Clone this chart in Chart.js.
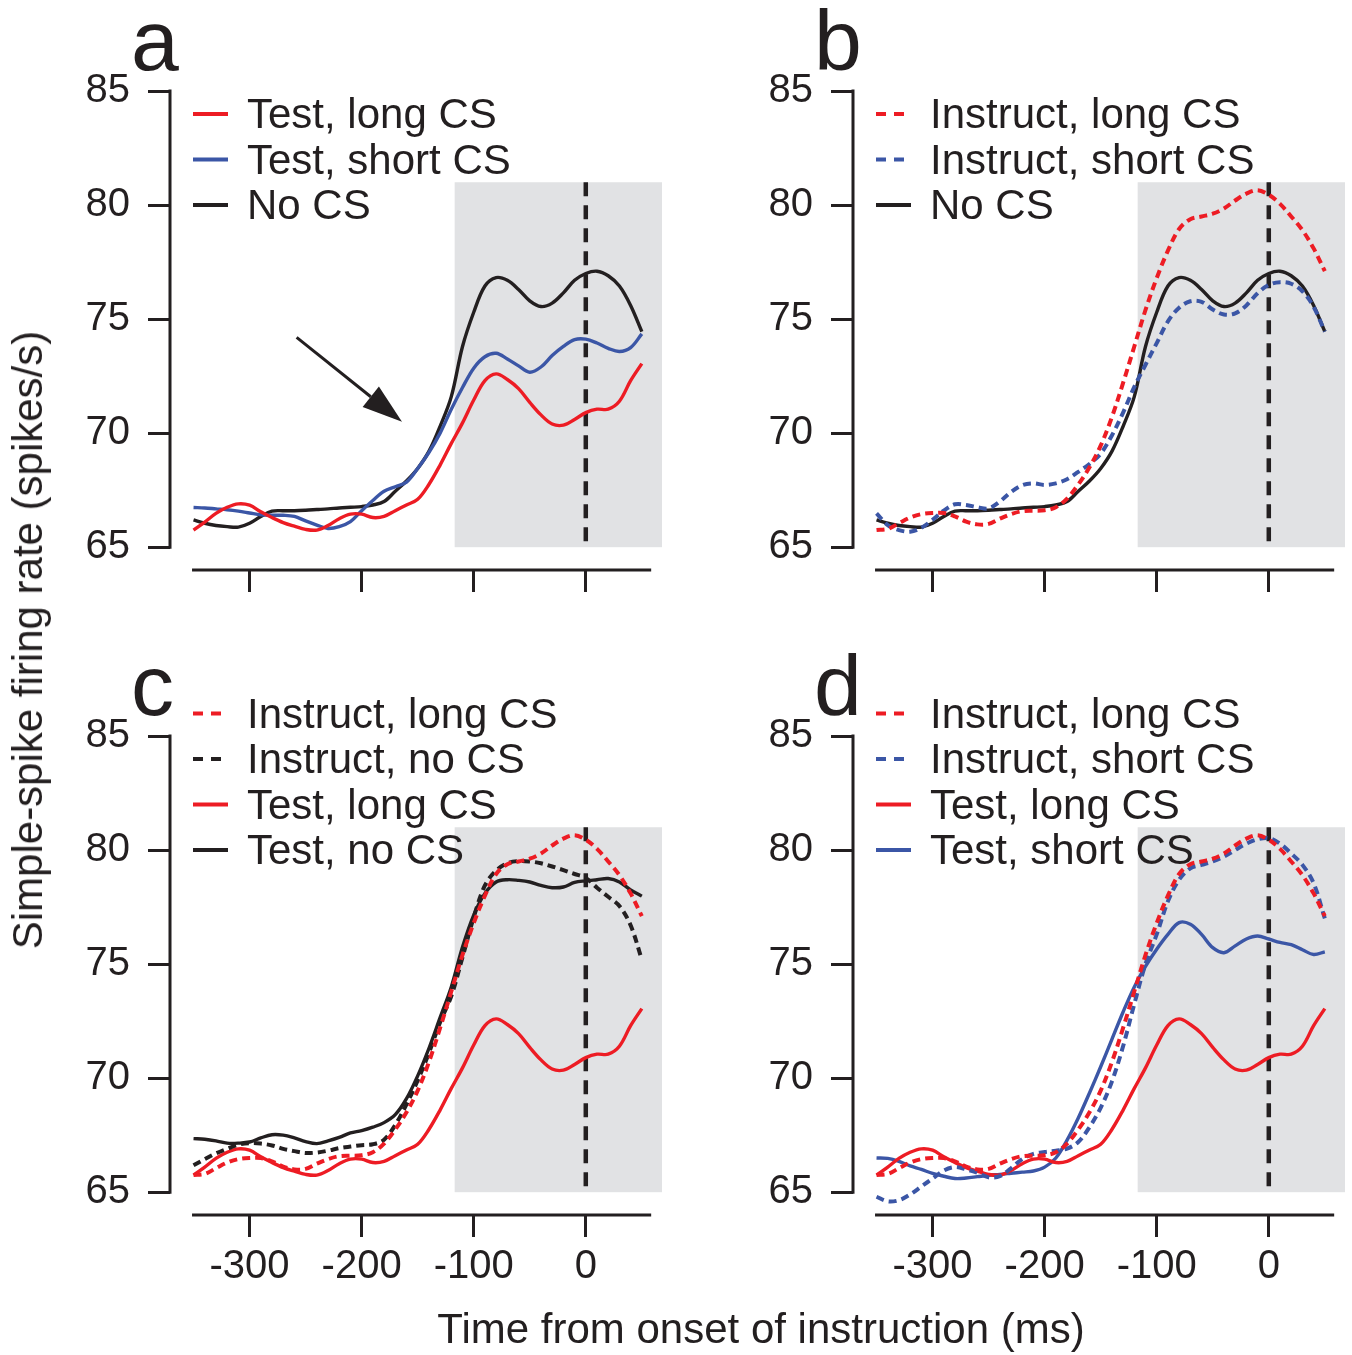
<!DOCTYPE html>
<html>
<head>
<meta charset="utf-8">
<title>Simple-spike firing rate</title>
<script src="https://cdn.jsdelivr.net/npm/chart.js@4.4.1/dist/chart.umd.min.js"></script>
<style>
  body { margin: 0; width: 1352px; height: 1355px; position: relative; overflow: hidden; background: #fff;
         font-family: "Liberation Sans", Arial, Helvetica, sans-serif; color: #231f20; }
  canvas { position: absolute; }
  #ytitle { position: absolute; left: 28px; top: 640px; font-size: 42px; line-height: 42px; white-space: nowrap;
            transform: translate(-50%, -50%) rotate(-90deg); }
  #xtitle { position: absolute; left: 761px; top: 1308px; font-size: 42px; line-height: 42px; white-space: nowrap;
            transform: translateX(-50%); }
</style>
</head>
<body>
<canvas id="panelA" width="670" height="645" style="left:0;top:0"></canvas>
<canvas id="panelB" width="669" height="645" style="left:683px;top:0"></canvas>
<canvas id="panelC" width="670" height="710" style="left:0;top:645px"></canvas>
<canvas id="panelD" width="669" height="710" style="left:683px;top:645px"></canvas>
<div id="ytitle">Simple-spike firing rate (spikes/s)</div>
<div id="xtitle">Time from onset of instruction (ms)</div>

<script>
// time axis (ms from instruction onset)
const TIME_MS = [-350, -340, -330, -320, -310, -300, -290, -280, -270, -260,
                 -250, -240, -230, -220, -210, -200, -190, -180, -170, -160,
                 -150, -140, -130, -120, -110, -100, -90, -80, -70, -60,
                 -50, -40, -30, -20, -10, 0, 10, 20, 30, 40, 50];

// firing rates (spikes/s)
const NO_CS = [66.2, 66.05, 65.95, 65.9, 65.88, 66.05, 66.35, 66.58, 66.6, 66.6,
               66.62, 66.65, 66.68, 66.72, 66.75, 66.78, 66.85, 67.0, 67.45, 67.9,
               68.45, 69.2, 70.3, 71.6, 73.8, 75.3, 76.45, 76.82, 76.7, 76.3,
               75.8, 75.55, 75.7, 76.15, 76.7, 77.0, 77.1, 76.9, 76.45, 75.6, 74.45];
const TEST_SHORT_A = [66.74, 66.72, 66.68, 66.64, 66.58, 66.5, 66.42, 66.4, 66.4, 66.35,
                      66.15, 65.97, 65.82, 65.9, 66.12, 66.6, 67.05, 67.45, 67.65, 67.85,
                      68.45, 69.15, 70.0, 71.05, 72.0, 72.85, 73.35, 73.5, 73.25, 72.95,
                      72.67, 72.9, 73.4, 73.8, 74.1, 74.12, 73.95, 73.72, 73.58, 73.75, 74.35];
const TEST_LONG = [65.75, 66.1, 66.48, 66.75, 66.9, 66.84, 66.55, 66.3, 66.08, 65.92,
                   65.78, 65.75, 65.95, 66.25, 66.45, 66.45, 66.3, 66.35, 66.6, 66.85,
                   67.1, 67.75, 68.6, 69.55, 70.45, 71.45, 72.3, 72.6, 72.35, 71.95,
                   71.35, 70.8, 70.4, 70.35, 70.6, 70.9, 71.05, 71.05, 71.4, 72.3, 73.05];
const INSTRUCT_LONG = [65.75, 65.8, 66.05, 66.3, 66.45, 66.5, 66.5, 66.35, 66.12, 66.0,
                       66.02, 66.25, 66.45, 66.58, 66.6, 66.62, 66.75, 67.13, 67.75, 68.5,
                       69.45, 70.7, 72.2, 73.8, 75.4, 76.8, 78.0, 78.95, 79.38, 79.5,
                       79.62, 79.85, 80.2, 80.5, 80.65, 80.45, 80.05, 79.5, 78.9, 78.1, 77.1];
const INSTRUCT_SHORT_B = [66.48, 65.97, 65.75, 65.68, 65.85, 66.2, 66.6, 66.88, 66.85, 66.75,
                          66.7, 67.0, 67.42, 67.72, 67.8, 67.73, 67.8, 67.98, 68.3, 68.65,
                          69.1, 69.9, 70.9, 72.03, 73.0, 73.95, 74.9, 75.5, 75.78, 75.76,
                          75.42, 75.2, 75.25, 75.6, 76.13, 76.5, 76.62, 76.55, 76.22, 75.54, 74.45];
const TEST_NO_CS_C = [67.35, 67.32, 67.25, 67.15, 67.15, 67.2, 67.38, 67.52, 67.5, 67.38,
                      67.22, 67.13, 67.25, 67.4, 67.6, 67.7, 67.85, 68.05, 68.4, 69.1,
                      70.1, 71.3, 72.65, 74.0, 75.75, 77.15, 78.1, 78.6, 78.7, 78.67,
                      78.6, 78.45, 78.35, 78.38, 78.58, 78.65, 78.7, 78.75, 78.6, 78.25, 77.98];
const INSTRUCT_NO_CS_C = [66.18, 66.45, 66.7, 66.9, 67.08, 67.15, 67.13, 67.05, 66.9, 66.8,
                          66.72, 66.74, 66.82, 66.93, 67.0, 67.06, 67.1, 67.3, 67.95, 68.85,
                          69.9, 71.1, 72.45, 73.6, 75.3, 77.05, 78.45, 79.1, 79.42, 79.52,
                          79.5, 79.42, 79.28, 79.12, 78.95, 78.78, 78.35, 77.95, 77.55, 76.7, 75.2];
const TEST_SHORT_D = [66.5, 66.48, 66.35, 66.15, 66.0, 65.82, 65.7, 65.6, 65.62, 65.68,
                      65.74, 65.78, 65.83, 65.88, 65.93, 66.1, 66.5, 67.28, 68.25, 69.35,
                      70.5, 71.7, 72.9, 74.0, 74.9, 75.65, 76.3, 76.82, 76.75, 76.3,
                      75.72, 75.5, 75.8, 76.1, 76.23, 76.1, 75.95, 75.85, 75.63, 75.42, 75.54];
const INSTRUCT_SHORT_D = [64.8, 64.6, 64.65, 64.9, 65.25, 65.6, 65.95, 66.1, 66.0, 65.85,
                          65.65, 65.7, 66.05, 66.45, 66.68, 66.76, 66.82, 66.91, 67.2, 67.85,
                          68.7, 69.85, 71.4, 73.25, 75.0, 76.3, 77.75, 78.7, 79.2, 79.35,
                          79.5, 79.71, 80.0, 80.28, 80.47, 80.52, 80.28, 79.85, 79.35, 78.55, 77.0];

// axis ticks
const X_TICKS = [-300, -200, -100, 0];
const Y_TICKS = [65, 70, 75, 80, 85];

// instruction window (shaded) and arrow annotation in data units
const SHADE_MS = [-117, 68];
const SHADE_RATE = [65, 81];
const ARROW_FROM = [-258, 74.2];
const ARROW_TO = [-164, 70.5];

const INK = '#231f20', RED = '#ed1c24', BLUE = '#3b56a6', SHADE = '#e1e2e4';
const FONT = '"Liberation Sans", Arial, Helvetica, sans-serif';

const decor = {
    id: 'decor',
    beforeDatasetsDraw(chart) {
        const { ctx, scales: { x, y } } = chart;
        const x0 = x.getPixelForValue(SHADE_MS[0]), x1 = x.getPixelForValue(SHADE_MS[1]);
        const yTop = y.getPixelForValue(SHADE_RATE[1]), yBot = y.getPixelForValue(SHADE_RATE[0]);
        ctx.save();
        ctx.fillStyle = SHADE;
        ctx.fillRect(x0, yTop, x1 - x0, yBot - yTop);
        // onset of instruction
        const xz = x.getPixelForValue(0);
        ctx.strokeStyle = INK;
        ctx.lineWidth = 4.5;
        ctx.setLineDash([14, 9]);
        ctx.beginPath();
        ctx.moveTo(xz, yTop);
        ctx.lineTo(xz, yBot);
        ctx.stroke();
        ctx.restore();
    },
    afterDraw(chart, args, opts) {
        const { ctx, chartArea, scales: { x, y } } = chart;
        ctx.save();
        // detached axis lines
        ctx.strokeStyle = INK;
        ctx.lineWidth = 3;
        ctx.lineCap = 'square';
        ctx.beginPath();
        ctx.moveTo(chartArea.left, y.getPixelForValue(85));
        ctx.lineTo(chartArea.left, y.getPixelForValue(65));
        ctx.moveTo(x.getPixelForValue(-350), chartArea.bottom);
        ctx.lineTo(x.getPixelForValue(57), chartArea.bottom);
        ctx.stroke();
        ctx.lineCap = 'butt';

        // legend
        const sets = chart.data.datasets;
        sets.forEach((ds, i) => {
            const rowY = 205 - (sets.length - 1 - i) * 45.5;
            ctx.strokeStyle = ds.borderColor;
            ctx.lineWidth = 4;
            ctx.setLineDash(ds.borderDash.length ? [10, 8] : []);
            ctx.beginPath();
            ctx.moveTo(193, rowY);
            ctx.lineTo(ds.borderDash.length ? 221 : 228, rowY);
            ctx.stroke();
            ctx.setLineDash([]);
            ctx.fillStyle = INK;
            ctx.font = '42px ' + FONT;
            ctx.textBaseline = 'alphabetic';
            ctx.fillText(ds.label, 247, rowY + 14);
        });

        // panel letter
        ctx.fillStyle = INK;
        ctx.font = '86px ' + FONT;
        ctx.fillText(opts.letter, 131, 70);

        // arrow
        if (opts.arrow) {
            const ax = x.getPixelForValue(ARROW_FROM[0]), ay = y.getPixelForValue(ARROW_FROM[1]);
            const bx = x.getPixelForValue(ARROW_TO[0]), by = y.getPixelForValue(ARROW_TO[1]);
            const len = Math.hypot(bx - ax, by - ay);
            const ux = (bx - ax) / len, uy = (by - ay) / len;
            const hx = bx - ux * 40, hy = by - uy * 40;
            ctx.strokeStyle = INK;
            ctx.lineWidth = 3;
            ctx.beginPath();
            ctx.moveTo(ax, ay);
            ctx.lineTo(hx, hy);
            ctx.stroke();
            ctx.fillStyle = INK;
            ctx.beginPath();
            ctx.moveTo(bx, by);
            ctx.lineTo(hx - uy * 13, hy + ux * 13);
            ctx.lineTo(hx + uy * 13, hy - ux * 13);
            ctx.closePath();
            ctx.fill();
        }
        ctx.restore();
    }
};

const makePanel = (id, letter, series, showXLabels, arrow) => {
    const canvas = document.getElementById(id);
    const W = canvas.width, H = canvas.height;
    return new Chart(canvas, {
        type: 'line',
        data: {
            datasets: series.map(s => ({
                label: s.label,
                data: TIME_MS.map((t, i) => ({ x: t, y: s.values[i] })),
                borderColor: s.color,
                borderWidth: s.dashed ? 4 : 3.4,
                borderDash: s.dashed ? [8, 5] : [],
                pointRadius: 0,
                tension: 0.35,
                fill: false
            }))
        },
        options: {
            responsive: false,
            animation: false,
            events: [],
            layout: { padding: { top: 91, right: W - 662, left: 0, bottom: 0 } },
            plugins: {
                legend: { display: false },
                tooltip: { enabled: false },
                decor: { letter: letter, arrow: arrow }
            },
            scales: {
                x: {
                    type: 'linear', min: -371, max: 68,
                    afterBuildTicks: s => { s.ticks = X_TICKS.map(v => ({ value: v })); },
                    afterFit: s => { s.height = H - 570; },
                    grid: { drawOnChartArea: false, drawTicks: true, tickLength: 22, lineWidth: 3, color: INK },
                    border: { display: false },
                    ticks: { display: showXLabels, color: INK, font: { family: FONT, size: 40 }, padding: 6,
                             maxRotation: 0, callback: v => String(v) }
                },
                y: {
                    type: 'linear', min: 64, max: 85,
                    afterBuildTicks: s => { s.ticks = Y_TICKS.map(v => ({ value: v })); },
                    afterFit: s => { s.width = 170; },
                    grid: { drawOnChartArea: false, drawTicks: true, tickLength: 22, lineWidth: 3, color: INK },
                    border: { display: false },
                    ticks: { color: INK, font: { family: FONT, size: 40 }, padding: 18, callback: v => String(v) }
                }
            }
        },
        plugins: [decor]
    });
};

makePanel('panelA', 'a', [
    { label: 'Test, long CS', values: TEST_LONG, color: RED, dashed: false },
    { label: 'Test, short CS', values: TEST_SHORT_A, color: BLUE, dashed: false },
    { label: 'No CS', values: NO_CS, color: INK, dashed: false }
], false, true);

makePanel('panelB', 'b', [
    { label: 'Instruct, long CS', values: INSTRUCT_LONG, color: RED, dashed: true },
    { label: 'Instruct, short CS', values: INSTRUCT_SHORT_B, color: BLUE, dashed: true },
    { label: 'No CS', values: NO_CS, color: INK, dashed: false }
], false, false);

makePanel('panelC', 'c', [
    { label: 'Instruct, long CS', values: INSTRUCT_LONG, color: RED, dashed: true },
    { label: 'Instruct, no CS', values: INSTRUCT_NO_CS_C, color: INK, dashed: true },
    { label: 'Test, long CS', values: TEST_LONG, color: RED, dashed: false },
    { label: 'Test, no CS', values: TEST_NO_CS_C, color: INK, dashed: false }
], true, false);

makePanel('panelD', 'd', [
    { label: 'Instruct, long CS', values: INSTRUCT_LONG, color: RED, dashed: true },
    { label: 'Instruct, short CS', values: INSTRUCT_SHORT_D, color: BLUE, dashed: true },
    { label: 'Test, long CS', values: TEST_LONG, color: RED, dashed: false },
    { label: 'Test, short CS', values: TEST_SHORT_D, color: BLUE, dashed: false }
], true, false);
</script>
</body>
</html>
